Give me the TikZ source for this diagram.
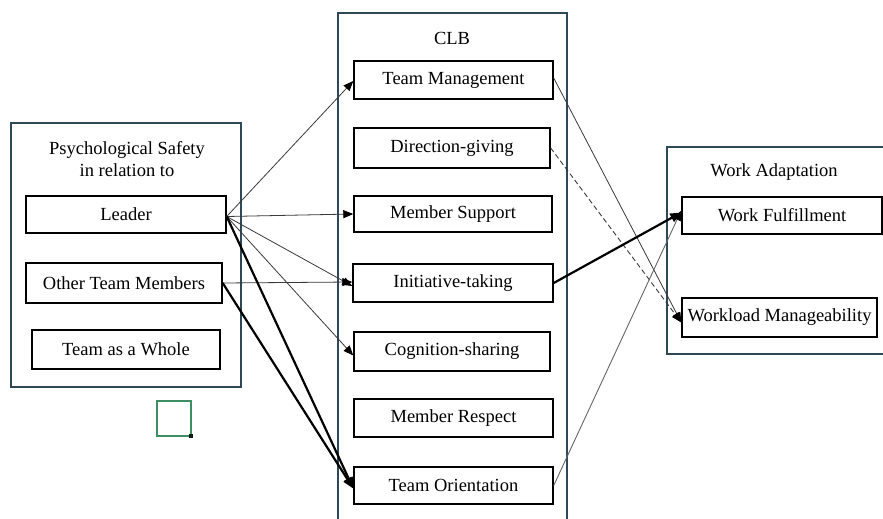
\documentclass[tikz,border=0pt]{standalone}
\usepackage{fontspec}
\setmainfont{Liberation Serif}
\usetikzlibrary{arrows.meta}
\definecolor{frame}{HTML}{2F4858}
\definecolor{thinline}{HTML}{3A3A3A}
\definecolor{lightline}{HTML}{666666}
\definecolor{selgreen}{HTML}{3E8E63}
\tikzset{
  box/.style={draw=black, line width=1.4pt, rectangle, inner sep=0pt, font=\fontsize{18.5}{22}\selectfont},
  grp/.style={draw=frame, line width=1.2pt},
  ttl/.style={inner sep=0pt, align=center, font=\fontsize{18.5}{22}\selectfont},
  thin/.style={draw=thinline, line width=0.8pt, -{Triangle[length=10pt,width=8pt,color=black]}},
  thick/.style={draw=black, line width=2.2pt, -{Triangle[length=11pt,width=9pt]}},
  dsh/.style={draw=thinline, line width=0.9pt, dash pattern=on 5pt off 3pt, -{Triangle[length=10pt,width=8pt,color=black]}},
  lite/.style={draw=lightline, line width=0.9pt, -{Triangle[length=10pt,width=8pt,color=black]}},
}
\begin{document}
\begin{tikzpicture}[x=1pt,y=-1pt]
\useasboundingbox (0,0) rectangle (883,519);
\fill[white] (0,0) rectangle (883,519);
% group frames
\draw[grp] (11,123) rectangle (241,387);
\draw[grp] (338,519) -- (338,13) -- (567,13) -- (567,519);
\draw[grp] (883,147) -- (667,147) -- (667,354) -- (883,354);
% titles
\node[ttl] (pstitle) at (127,159) {Psychological Safety\\in relation to};
\node[ttl] (clb) at (452,38) {CLB};
\node[ttl] (wa) at (774,172) {Work Adaptation};
% left nodes
\node[box, minimum width=200pt, minimum height=37pt] (leader) at (126,214.5) {Leader};
\node[box, minimum width=196pt, minimum height=40pt] (other) at (124,283) {Other Team Members};
\node[box, minimum width=188pt, minimum height=39pt] (whole) at (126,349.5) {Team as a Whole};
% middle nodes
\node[box, minimum width=199pt, minimum height=38pt] (tm) at (453.5,80) {Team Management};
\node[box, minimum width=196pt, minimum height=40pt] (dg) at (452,148) {Direction-giving};
\node[box, minimum width=198pt, minimum height=36pt] (ms) at (453,214) {Member Support};
\node[box, minimum width=200pt, minimum height=38pt] (it) at (453,283) {Initiative-taking};
\node[box, minimum width=196pt, minimum height=39pt] (cs) at (452,351.5) {Cognition-sharing};
\node[box, minimum width=199pt, minimum height=38pt] (mr) at (453.5,418) {Member Respect};
\node[box, minimum width=199pt, minimum height=37pt] (to) at (453.5,485.5) {Team Orientation};
% right nodes
\node[box, minimum width=200pt, minimum height=37pt] (wf) at (782,215.5) {Work Fulfillment};
\node[box, minimum width=195pt, minimum height=39pt] (wm) at (779.5,317.5) {Workload Manageability};
% green selection mark
\draw[selgreen, line width=1.2pt] (157,401) rectangle (191,436);
\fill[black!80!selgreen] (189,434) rectangle (193,438);
% connectors
\coordinate (lo) at ([yshift=-2pt]leader.east);
\draw[thin] (lo) -- ([yshift=-1pt]tm.west);
\draw[thin] (lo) -- (ms.west);
\draw[thin] (lo) -- ([yshift=-3pt]it.west);
\draw[thin] (lo) -- ([yshift=-4pt]cs.west);
\draw[thin] (other.east) -- ([yshift=1pt]it.west);
\draw[thick] (lo) -- ([yshift=-3pt]to.west);
\draw[thick] (other.east) -- ([yshift=-3pt]to.west);
\draw[thin] ([yshift=2pt]tm.east) -- ([yshift=-5pt]wm.west);
\draw[dsh] (dg.east) -- ([yshift=-5pt]wm.west);
\draw[thick] (it.east) -- ([yshift=3pt]wf.west);
\draw[lite] (to.east) -- ([yshift=5pt]wf.west);
\end{tikzpicture}
\end{document}
